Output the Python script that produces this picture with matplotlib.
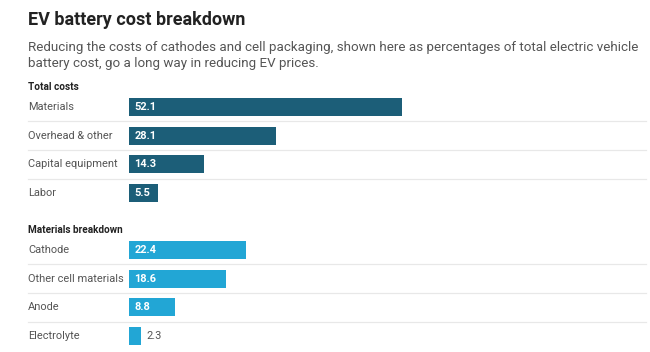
import matplotlib
matplotlib.use("Agg")
from matplotlib import pyplot as plt
from matplotlib import transforms

plt.rcParams['font.family'] = ['Roboto', 'DejaVu Sans']

total_labels = ['Materials', 'Overhead & other', 'Capital equipment', 'Labor']
total_values = [52.1, 28.1, 14.3, 5.5]
mat_labels = ['Cathode', 'Other cell materials', 'Anode', 'Electrolyte']
mat_values = [22.4, 18.6, 8.8, 2.3]

dark = '#1c5e78'
light = '#22a6d5'
grey_txt = '#555555'

W, H = 650, 352
fig = plt.figure(figsize=(W/100, H/100), dpi=100)
fig.patch.set_facecolor('white')

# axes area: bars start at x=129px, rows centred at 107..336px
top_px, bot_px = 92.7, 350.3
ax = fig.add_axes([129/W, 1 - bot_px/H, (646-129)/W, (bot_px-top_px)/H])
ax.set_xlim(0, (646-129)/5.24)
ax.set_ylim(8.5, -0.5)
ax.axis('off')

trans = transforms.blended_transform_factory(fig.transFigure, ax.transData)

groups = [(0, total_labels, total_values, dark, 'Total costs'),
          (5, mat_labels, mat_values, light, 'Materials breakdown')]

for start, labels, values, col, header in groups:
    pos = [start + i for i in range(len(values))]
    ax.barh(pos, values, height=0.63, color=col, zorder=2)
    ax.text(28/W, start - 0.7, header, transform=trans, fontsize=7.2, fontweight='bold',
            color='#222222', va='center', ha='left')
    for p, lab, v in zip(pos, labels, values):
        ax.text(28/W, p, lab, transform=trans, fontsize=7.9, color=grey_txt,
                va='center', ha='left')
        if v > 4:
            ax.text(1.0, p, f'{v:.1f}', fontsize=7.9, color='white', fontweight='bold',
                    va='center', ha='left', zorder=3)
        else:
            ax.text(v + 1.0, p, f'{v:.1f}', fontsize=7.9, color=grey_txt,
                    va='center', ha='left', zorder=3)
    for p in pos[:-1]:
        ax.plot([28/W, 646/W], [p + 0.5, p + 0.5], transform=trans, color='#e8e8e8',
                linewidth=0.9, zorder=1, clip_on=False)

fig.text(28/W, 1 - 20/H, 'EV battery cost breakdown', fontsize=13, fontweight='bold',
         color='#222222', va='center', ha='left')
fig.text(28/W, 1 - 48/H, 'Reducing the costs of cathodes and cell packaging, shown here as percentages of total electric vehicle',
         fontsize=9.6, color=grey_txt, va='center', ha='left')
fig.text(28/W, 1 - 64/H, 'battery cost, go a long way in reducing EV prices.',
         fontsize=9.6, color=grey_txt, va='center', ha='left')

fig.savefig('out.png', dpi=100)
